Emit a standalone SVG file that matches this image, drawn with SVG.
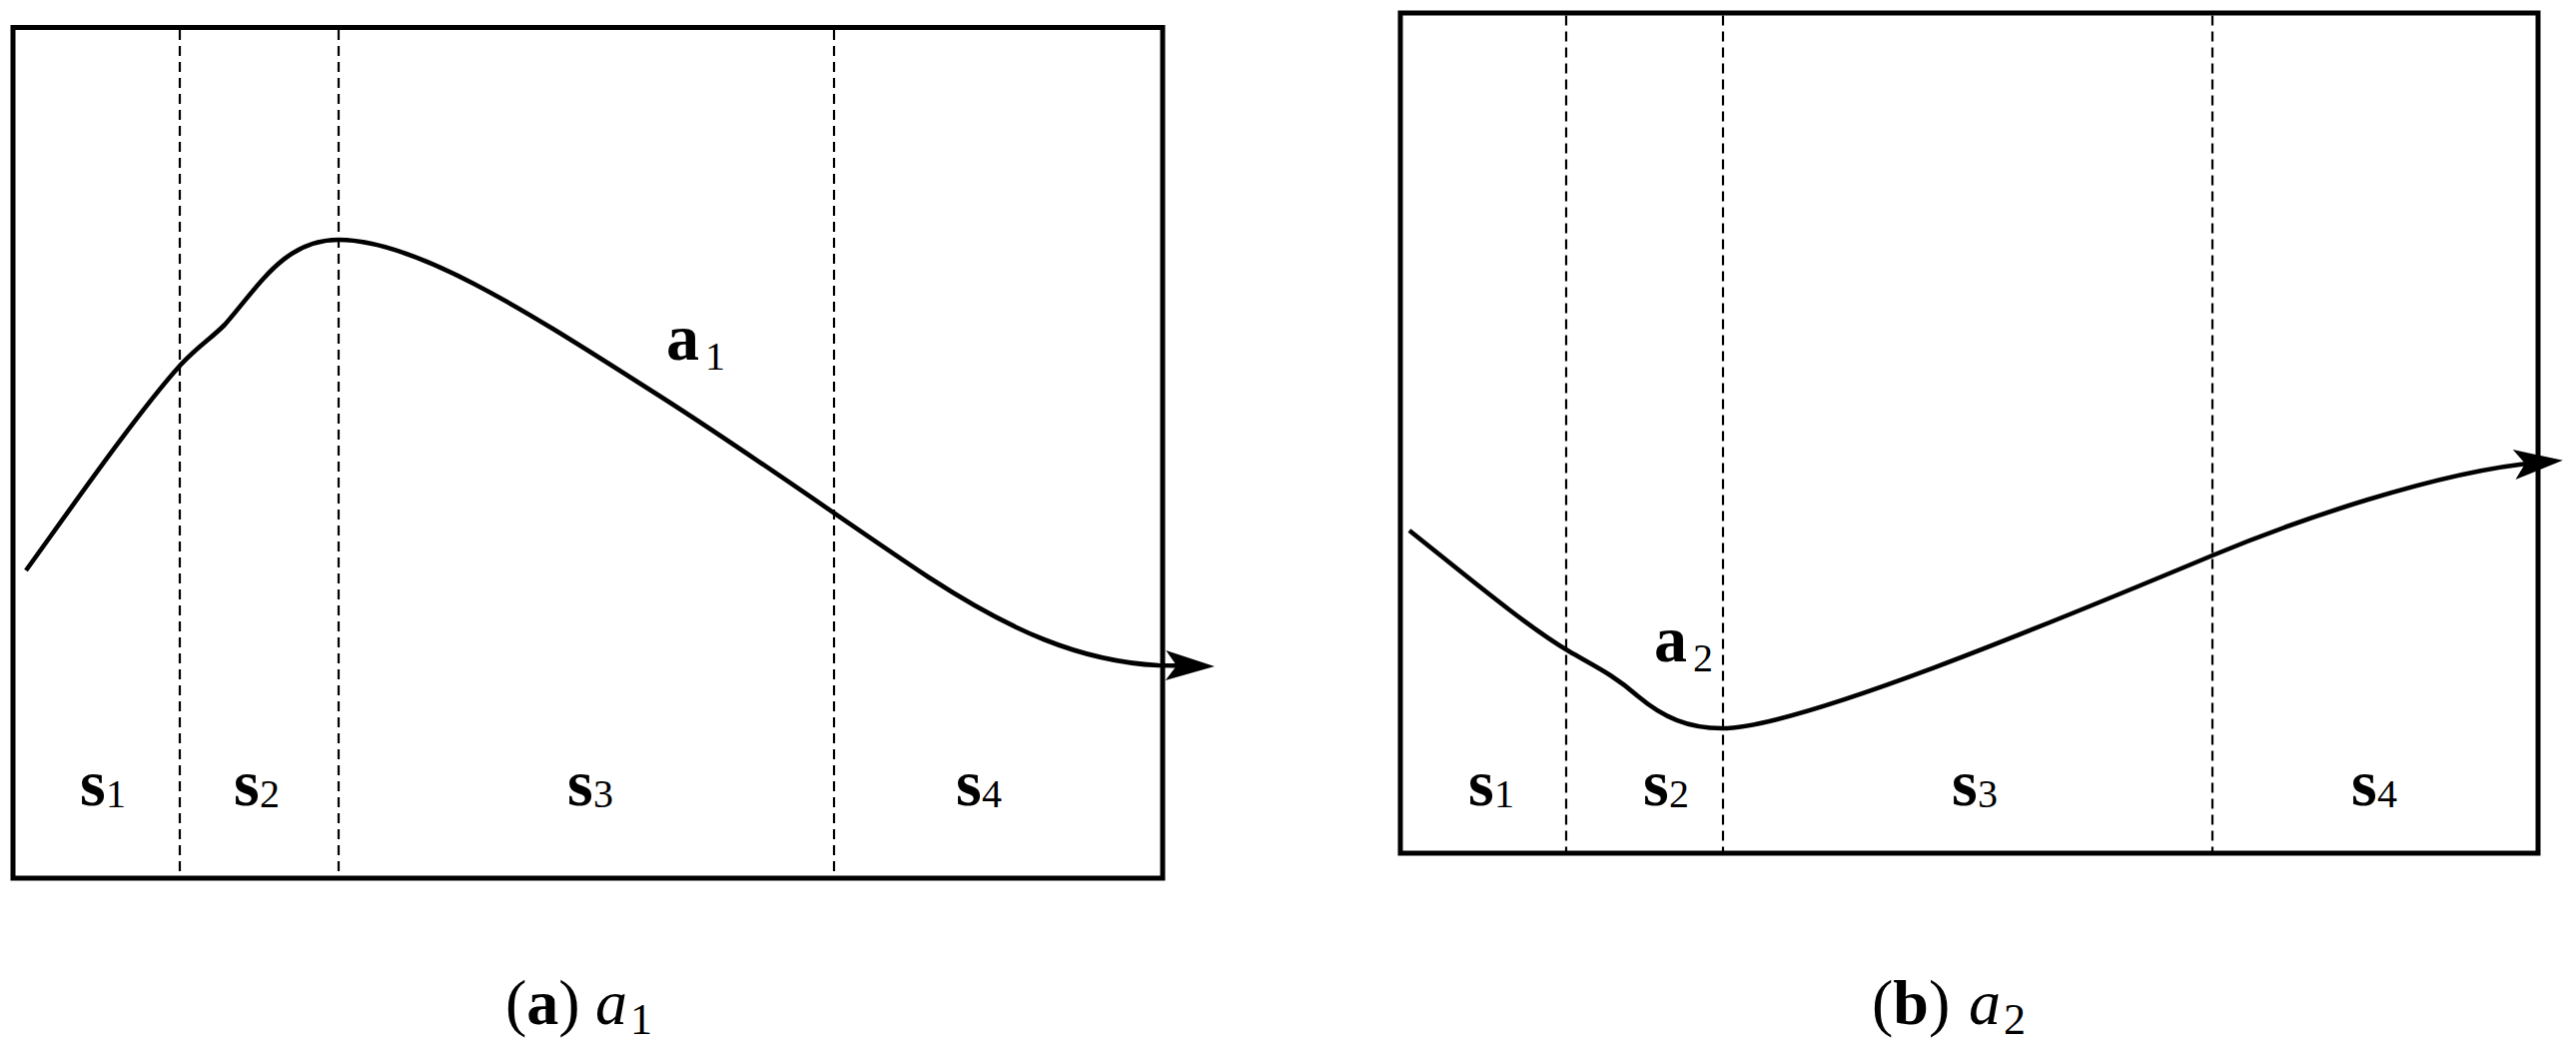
<svg xmlns="http://www.w3.org/2000/svg" width="2579" height="1059" viewBox="0 0 2579 1059">
<style>
.frame{fill:none;stroke:#000;stroke-width:5}
.dash{stroke:#000;stroke-width:2.2;stroke-dasharray:10 6}
.curve{fill:none;stroke:#000;stroke-width:4.6;marker-end:url(#arr)}
.t{font-family:'Liberation Serif','DejaVu Serif',serif;fill:#000}
.b{font-weight:bold;font-size:66px}
.sub{font-size:40px;font-weight:normal}
.cap{font-size:64px}
.capsub{font-size:44px}
</style>
<defs>
<marker id="arr" markerUnits="userSpaceOnUse" viewBox="-25 -16 52 32" markerWidth="52" markerHeight="32" refX="0" refY="0" orient="auto">
<path d="M26,0 L-23,-15 L-12,0 L-23,15 Z" fill="#000"/>
</marker>
</defs>
<rect width="2579" height="1059" fill="#fff"/>

<g id="panel-a">
<rect class="frame" x="13" y="27.5" width="1151" height="851.5"/>
<line class="dash" x1="180" y1="30" x2="180" y2="877"/>
<line class="dash" x1="339" y1="30" x2="339" y2="877"/>
<line class="dash" x1="835" y1="30" x2="835" y2="877"/>
<g class="t" font-family="Liberation Serif, DejaVu Serif, serif">
<text class="b" x="80" y="806">s<tspan class="sub" x="106" y="808">1</tspan></text>
<text class="b" x="234" y="806">s<tspan class="sub" x="260" y="808">2</tspan></text>
<text class="b" x="568" y="806">s<tspan class="sub" x="594" y="808">3</tspan></text>
<text class="b" x="957" y="806">s<tspan class="sub" x="983" y="808">4</tspan></text>
<text class="b" x="667" y="360">a<tspan class="sub" x="706" y="370">1</tspan></text>
<text class="cap" x="506" y="1025">(<tspan font-weight="bold">a</tspan>) <tspan font-style="italic" x="596">a</tspan><tspan class="capsub" x="631" y="1035">1</tspan></text>
</g>
</g>

<g id="panel-b">
<rect class="frame" x="1402" y="13" width="1139" height="841"/>
<line class="dash" x1="1568" y1="15.5" x2="1568" y2="852"/>
<line class="dash" x1="1725" y1="15.5" x2="1725" y2="852"/>
<line class="dash" x1="2215" y1="15.5" x2="2215" y2="852"/>
<g class="t" font-family="Liberation Serif, DejaVu Serif, serif">
<text class="b" x="1470" y="806">s<tspan class="sub" x="1496" y="808">1</tspan></text>
<text class="b" x="1645" y="806">s<tspan class="sub" x="1671" y="808">2</tspan></text>
<text class="b" x="1954" y="806">s<tspan class="sub" x="1980" y="808">3</tspan></text>
<text class="b" x="2354" y="806">s<tspan class="sub" x="2380" y="808">4</tspan></text>
<text class="b" x="1656" y="662">a<tspan class="sub" x="1695" y="672">2</tspan></text>
<text class="cap" x="1874" y="1025">(<tspan font-weight="bold">b</tspan>) <tspan font-style="italic" x="1971">a</tspan><tspan class="capsub" x="2006" y="1035">2</tspan></text>
</g>
</g>

<g id="connectors">
<path class="curve" d="M26,571 C70,510 140,410 181,365 C200,345 210,340 225,325 C260,285 285,240 339,240 C420,240 540,320 663,398 C760,460 850,525 930,578 C1010,630 1080,662 1160,666 L1190,666.5"/>
<path class="curve" d="M1411,531 C1470,578 1530,628 1571,652 C1595,666 1615,675 1640,697 C1665,718 1690,729 1724,729 C1800,729 2050,625 2215,556 C2295,522.5 2440,472 2540,463"/>
</g>
</svg>
